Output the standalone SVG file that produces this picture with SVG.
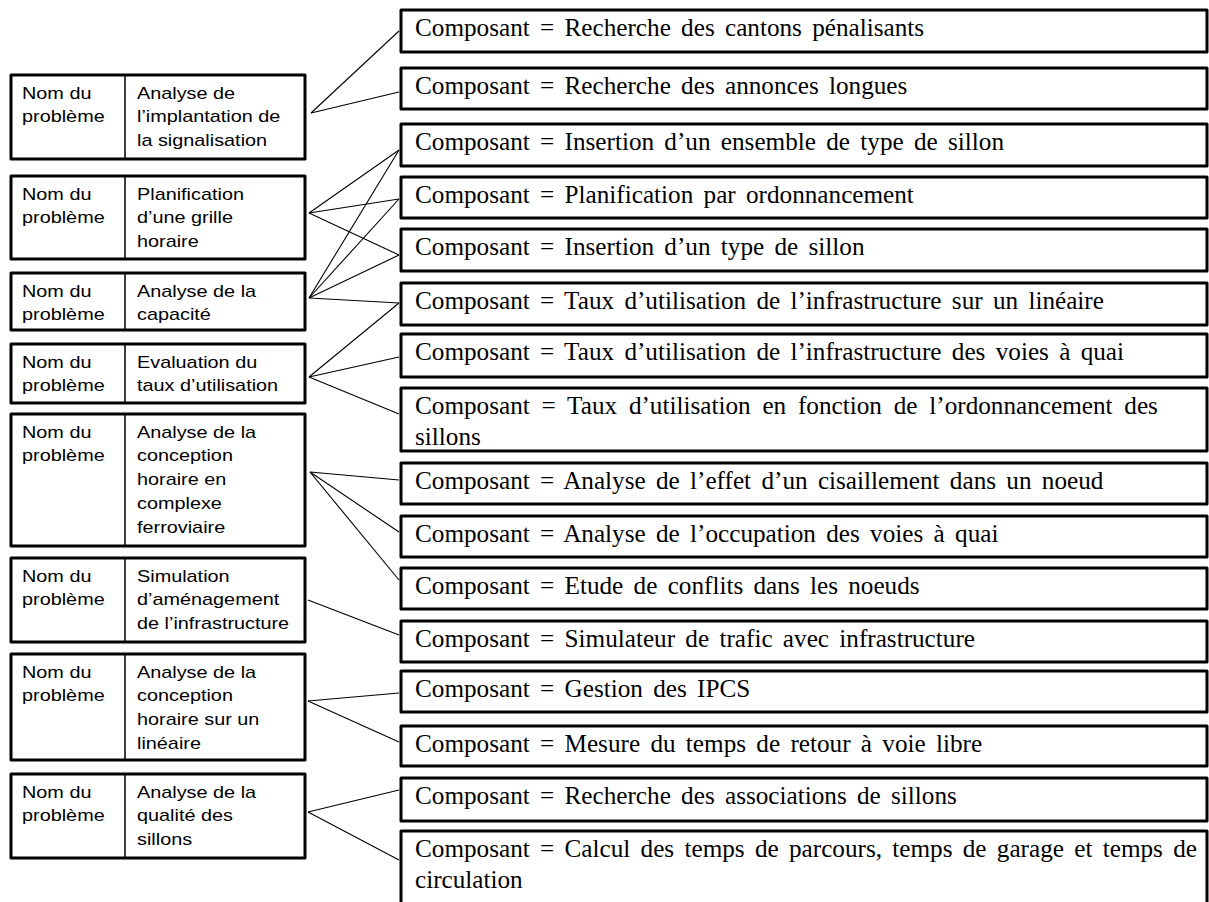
<svg xmlns="http://www.w3.org/2000/svg" width="1209" height="902" viewBox="0 0 1209 902">
<style>
.bg{fill:#fff}
.lb{fill:#fff;stroke:#000;stroke-width:3;stroke-linejoin:round}
.dv{stroke:#000;stroke-width:1.5}
.rb{fill:#fff;stroke:#000;stroke-width:3;stroke-linejoin:round}
.lt{font-family:"Liberation Sans",Arial,sans-serif;font-size:16px;fill:#000}
.rt{font-family:"Liberation Serif","Times New Roman",serif;font-size:25.2px;fill:#000;word-spacing:4px}
.cn line{stroke:#000;stroke-width:1.1;fill:none}
</style>
<rect class="bg" x="0" y="0" width="1209" height="902"/>

<g id="connectors" class="cn">
<line x1="311" y1="113" x2="399" y2="31"/>
<line x1="311" y1="113" x2="399" y2="92"/>
<line x1="309" y1="213" x2="399" y2="150"/>
<line x1="309" y1="213" x2="399" y2="199"/>
<line x1="309" y1="213" x2="399" y2="255"/>
<line x1="309" y1="298" x2="399" y2="150"/>
<line x1="309" y1="298" x2="399" y2="199"/>
<line x1="309" y1="298" x2="399" y2="255"/>
<line x1="309" y1="298" x2="399" y2="303"/>
<line x1="309" y1="377" x2="399" y2="303"/>
<line x1="309" y1="377" x2="399" y2="357"/>
<line x1="309" y1="377" x2="399" y2="414"/>
<line x1="310" y1="472" x2="399" y2="480"/>
<line x1="310" y1="472" x2="399" y2="532"/>
<line x1="310" y1="472" x2="399" y2="580"/>
<line x1="308" y1="600" x2="399" y2="635"/>
<line x1="308" y1="701" x2="399" y2="693"/>
<line x1="308" y1="701" x2="399" y2="742"/>
<line x1="308" y1="812" x2="399" y2="790"/>
<line x1="308" y1="812" x2="399" y2="860"/>
</g>

<g id="p1">
<rect class="lb" x="11" y="75" width="294" height="84"/>
<line class="dv" x1="125" y1="75" x2="125" y2="159"/>
<text class="lt" transform="matrix(1.24 0 0 1 22 98.5)"><tspan x="0" y="0">Nom du</tspan><tspan x="0" y="24">problème</tspan></text>
<text class="lt" transform="matrix(1.24 0 0 1 137 98.5)"><tspan x="0" y="0">Analyse de</tspan><tspan x="0" y="24">l’implantation de</tspan><tspan x="0" y="48">la signalisation</tspan></text>
</g>
<g id="p2">
<rect class="lb" x="11" y="176" width="294" height="83"/>
<line class="dv" x1="125" y1="176" x2="125" y2="259"/>
<text class="lt" transform="matrix(1.24 0 0 1 22 199.5)"><tspan x="0" y="0">Nom du</tspan><tspan x="0" y="24">problème</tspan></text>
<text class="lt" transform="matrix(1.24 0 0 1 137 199.5)"><tspan x="0" y="0">Planification</tspan><tspan x="0" y="24">d’une grille</tspan><tspan x="0" y="48">horaire</tspan></text>
</g>
<g id="p3">
<rect class="lb" x="11" y="273" width="294" height="57"/>
<line class="dv" x1="125" y1="273" x2="125" y2="330"/>
<text class="lt" transform="matrix(1.24 0 0 1 22 296.5)"><tspan x="0" y="0">Nom du</tspan><tspan x="0" y="24">problème</tspan></text>
<text class="lt" transform="matrix(1.24 0 0 1 137 296.5)"><tspan x="0" y="0">Analyse de la</tspan><tspan x="0" y="24">capacité</tspan></text>
</g>
<g id="p4">
<rect class="lb" x="11" y="344" width="294" height="59"/>
<line class="dv" x1="125" y1="344" x2="125" y2="403"/>
<text class="lt" transform="matrix(1.24 0 0 1 22 367.5)"><tspan x="0" y="0">Nom du</tspan><tspan x="0" y="24">problème</tspan></text>
<text class="lt" transform="matrix(1.24 0 0 1 137 367.5)"><tspan x="0" y="0">Evaluation du</tspan><tspan x="0" y="24">taux d’utilisation</tspan></text>
</g>
<g id="p5">
<rect class="lb" x="11" y="414" width="294" height="132"/>
<line class="dv" x1="125" y1="414" x2="125" y2="546"/>
<text class="lt" transform="matrix(1.24 0 0 1 22 437.5)"><tspan x="0" y="0">Nom du</tspan><tspan x="0" y="24">problème</tspan></text>
<text class="lt" transform="matrix(1.24 0 0 1 137 437.5)"><tspan x="0" y="0">Analyse de la</tspan><tspan x="0" y="24">conception</tspan><tspan x="0" y="48">horaire en</tspan><tspan x="0" y="72">complexe</tspan><tspan x="0" y="96">ferroviaire</tspan></text>
</g>
<g id="p6">
<rect class="lb" x="11" y="558" width="294" height="84"/>
<line class="dv" x1="125" y1="558" x2="125" y2="642"/>
<text class="lt" transform="matrix(1.24 0 0 1 22 581.5)"><tspan x="0" y="0">Nom du</tspan><tspan x="0" y="24">problème</tspan></text>
<text class="lt" transform="matrix(1.24 0 0 1 137 581.5)"><tspan x="0" y="0">Simulation</tspan><tspan x="0" y="24">d’aménagement</tspan><tspan x="0" y="48">de l’infrastructure</tspan></text>
</g>
<g id="p7">
<rect class="lb" x="11" y="654" width="294" height="106"/>
<line class="dv" x1="125" y1="654" x2="125" y2="760"/>
<text class="lt" transform="matrix(1.24 0 0 1 22 677.5)"><tspan x="0" y="0">Nom du</tspan><tspan x="0" y="24">problème</tspan></text>
<text class="lt" transform="matrix(1.24 0 0 1 137 677.5)"><tspan x="0" y="0">Analyse de la</tspan><tspan x="0" y="24">conception</tspan><tspan x="0" y="48">horaire sur un</tspan><tspan x="0" y="72">linéaire</tspan></text>
</g>
<g id="p8">
<rect class="lb" x="11" y="774" width="294" height="84"/>
<line class="dv" x1="125" y1="774" x2="125" y2="858"/>
<text class="lt" transform="matrix(1.24 0 0 1 22 797.5)"><tspan x="0" y="0">Nom du</tspan><tspan x="0" y="24">problème</tspan></text>
<text class="lt" transform="matrix(1.24 0 0 1 137 797.5)"><tspan x="0" y="0">Analyse de la</tspan><tspan x="0" y="24">qualité des</tspan><tspan x="0" y="48">sillons</tspan></text>
</g>

<g id="c1"><rect class="rb" x="401" y="10" width="806" height="42"/><text class="rt" x="415" y="36">Composant = Recherche des cantons pénalisants</text></g>
<g id="c2"><rect class="rb" x="401" y="68" width="806" height="41"/><text class="rt" x="415" y="94">Composant = Recherche des annonces longues</text></g>
<g id="c3"><rect class="rb" x="401" y="124" width="806" height="42"/><text class="rt" x="415" y="150">Composant = Insertion d’un ensemble de type de sillon</text></g>
<g id="c4"><rect class="rb" x="401" y="177" width="806" height="41"/><text class="rt" x="415" y="203">Composant = Planification par ordonnancement</text></g>
<g id="c5"><rect class="rb" x="401" y="229" width="806" height="42"/><text class="rt" x="415" y="255">Composant = Insertion d’un type de sillon</text></g>
<g id="c6"><rect class="rb" x="401" y="283" width="806" height="42"/><text class="rt" x="415" y="309">Composant = Taux d’utilisation de l’infrastructure sur un linéaire</text></g>
<g id="c7"><rect class="rb" x="401" y="334" width="806" height="43"/><text class="rt" x="415" y="360">Composant = Taux d’utilisation de l’infrastructure des voies à quai</text></g>
<g id="c8"><rect class="rb" x="401" y="388" width="806" height="63"/><text class="rt" x="415" y="414" style="word-spacing:5.5px">Composant = Taux d’utilisation en fonction de l’ordonnancement des</text><text class="rt" x="415" y="445">sillons</text></g>
<g id="c9"><rect class="rb" x="401" y="463" width="806" height="41"/><text class="rt" x="415" y="489">Composant = Analyse de l’effet d’un cisaillement dans un noeud</text></g>
<g id="c10"><rect class="rb" x="401" y="516" width="806" height="41"/><text class="rt" x="415" y="542">Composant = Analyse de l’occupation des voies à quai</text></g>
<g id="c11"><rect class="rb" x="401" y="568" width="806" height="41"/><text class="rt" x="415" y="594">Composant = Etude de conflits dans les noeuds</text></g>
<g id="c12"><rect class="rb" x="401" y="621" width="806" height="41"/><text class="rt" x="415" y="647">Composant = Simulateur de trafic avec infrastructure</text></g>
<g id="c13"><rect class="rb" x="401" y="671" width="806" height="41"/><text class="rt" x="415" y="697">Composant = Gestion des IPCS</text></g>
<g id="c14"><rect class="rb" x="401" y="726" width="806" height="40"/><text class="rt" x="415" y="752">Composant = Mesure du temps de retour à voie libre</text></g>
<g id="c15"><rect class="rb" x="401" y="778" width="806" height="43"/><text class="rt" x="415" y="804">Composant = Recherche des associations de sillons</text></g>
<g id="c16"><rect class="rb" x="401" y="831" width="806" height="100"/><text class="rt" x="415" y="857">Composant = Calcul des temps de parcours, temps de garage et temps de</text><text class="rt" x="415" y="888">circulation</text></g>
</svg>
